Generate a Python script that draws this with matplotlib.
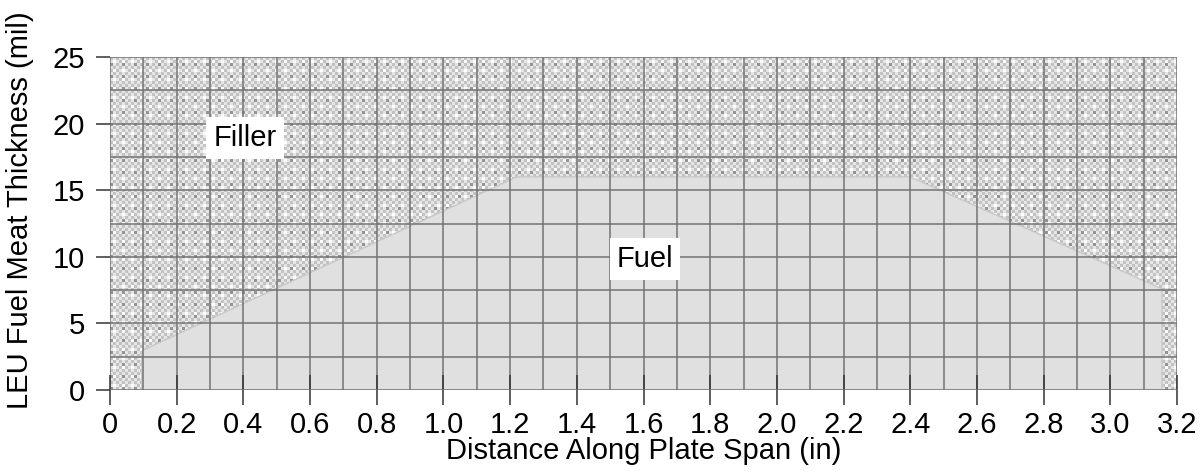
import numpy as np
import matplotlib
matplotlib.use("Agg")
import matplotlib.pyplot as plt
from matplotlib.ticker import MultipleLocator

plt.rcParams['font.family'] = ['Liberation Sans', 'DejaVu Sans']

# Fuel meat profile (inches, mil)
fuel_x = [0.095, 0.095, 0.10, 1.22, 2.40, 3.155, 3.155]
fuel_y = [0.0, 2.9, 3.0, 16.0, 16.0, 7.6, 0.0]

x_ticks = [0.0, 0.2, 0.4, 0.6, 0.8, 1.0, 1.2, 1.4, 1.6, 1.8, 2.0, 2.2, 2.4,
           2.6, 2.8, 3.0, 3.2]
x_labels = ['0', '0.2', '0.4', '0.6', '0.8', '1.0', '1.2', '1.4', '1.6', '1.8',
            '2.0', '2.2', '2.4', '2.6', '2.8', '3.0', '3.2']
y_ticks = [0, 5, 10, 15, 20, 25]

fig = plt.figure(figsize=(12.03, 4.72), dpi=100)
ax = fig.add_axes([110/1203, 1-390/472, (1177-110)/1203, (390-57)/472])

# filler texture (checker pattern background)
ny, nx = 111, 356
jj, ii = np.indices((ny, nx))
tex = np.where((ii + jj) % 2 == 0, 0.76, 0.90)
tex = np.where((ii % 3 == 1) & (jj % 3 == 1), 0.99, tex)
tex = np.where((ii % 4 == 0) & (jj % 4 == 2), 0.58, tex)
ax.imshow(tex, cmap='gray', vmin=0, vmax=1, extent=[0, 3.2, 0, 25],
          aspect='auto', interpolation='nearest', zorder=0)

ax.fill(fuel_x, fuel_y, facecolor='#e0e0e0', edgecolor='#c8c8c8', lw=1.0, zorder=1)

ax.set_xlim(0, 3.2)
ax.set_ylim(0, 25)
ax.xaxis.set_minor_locator(MultipleLocator(0.1))
ax.yaxis.set_minor_locator(MultipleLocator(2.5))
ax.set_xticks(x_ticks)
ax.set_xticklabels(x_labels)
ax.set_yticks(y_ticks)
ax.grid(True, which='both', color='#737373', lw=1.1, zorder=2)
ax.set_axisbelow(False)
for s in ax.spines.values():
    s.set_visible(False)
ax.tick_params(axis='x', which='major', direction='inout', length=22, width=1.1,
               color='#333333', labelsize=21, pad=4)
ax.tick_params(axis='y', which='major', direction='out', length=10, width=1.1,
               color='#333333', labelsize=21, pad=8)
ax.tick_params(which='minor', length=0)

ax.set_xlabel('Distance Along Plate Span (in)', fontsize=21, labelpad=-1)
ax.set_ylabel('LEU Fuel Meat Thickness (mil)', fontsize=21)
ax.yaxis.set_label_coords(-0.071, 0.54)

bbox = dict(facecolor='white', edgecolor='none', pad=5)
ax.text(0.405, 18.9, 'Filler', fontsize=21, ha='center', va='center', bbox=bbox, zorder=5)
ax.text(1.605, 9.8, 'Fuel', fontsize=21, ha='center', va='center', bbox=bbox, zorder=5)

fig.savefig('out.png', dpi=100)
